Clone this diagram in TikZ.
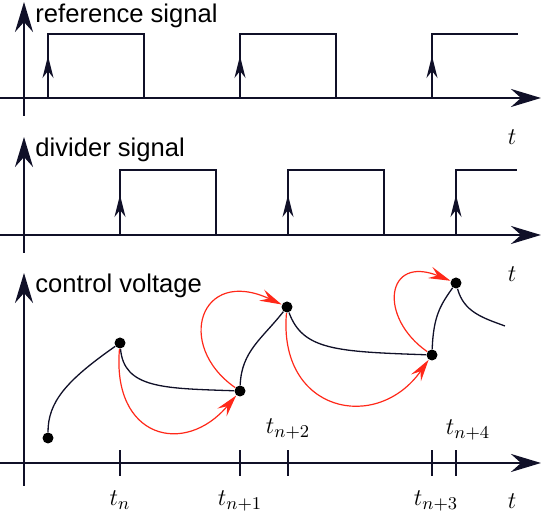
\documentclass[tikz,border=0pt]{standalone}
\usepackage{fontspec}
\setsansfont{Liberation Sans}
\usepackage{amsmath}
\usetikzlibrary{arrows.meta}
\definecolor{ink}{RGB}{16,16,40}
\definecolor{jump}{RGB}{255,40,25}

\begin{document}
\begin{tikzpicture}[x=0.5pt, y=0.5pt,
  taxis/.style={line width=1.4pt, color=ink, -{Stealth[length=15pt,width=9pt,inset=5pt]}},
  wave/.style={line width=0.65pt, color=ink},
  riseedge/.style={line width=0.65pt, color=ink, -{Stealth[length=11pt,width=5.5pt,inset=3.5pt]}},
  tick/.style={line width=0.6pt, color=ink},
  vdot/.style={circle, fill=black, inner sep=0pt, minimum size=5.5pt},
  jumparrow/.style={line width=0.6pt, color=jump, -{Stealth[length=11pt,width=6pt,inset=4pt]}},
  lbl/.style={font=\sffamily\fontsize{12.8}{15}\selectfont, anchor=base west, inner sep=0pt},
  tlbl/.style={font=\fontsize{12.5}{15}\selectfont, anchor=base, inner sep=0pt}]
  \useasboundingbox (0,0) rectangle (542,512);

  % Axes
  \draw[taxis] (0,414) -- (541,414);
  \draw[taxis] (24,396) -- (24,510);
  \draw[taxis] (0,277) -- (541,277);
  \draw[taxis] (24,259) -- (24,375);
  \draw[taxis] (0,49) -- (541,49);
  \draw[taxis] (24,26) -- (24,239);

  % Labels
  \node[lbl] (refl) at (35,489) {reference signal};
  \node[lbl] (divl) at (35,355) {divider signal};
  \node[lbl] (ctrl) at (35,219) {control voltage};
  \node[tlbl] (t1) at (512,367) {$t$};
  \node[tlbl] (t2) at (512,230) {$t$};
  \node[tlbl] (t3) at (512,3) {$t$};

  % Reference signal
  \foreach \x in {48,240}{
    \draw[wave] (\x,414) -- (\x,478) -- ++(96,0) -- ++(0,-64);
  }
  \draw[wave] (432,414) -- (432,478) -- (518,478);
  \foreach \x in {48,240,432}{
    \draw[riseedge] (\x,414) -- ++(0,42);
  }

  % Divider signal
  \foreach \x in {120,288}{
    \draw[wave] (\x,277) -- (\x,342) -- ++(96,0) -- ++(0,-65);
  }
  \draw[wave] (456,277) -- (456,342) -- (517,342);
  \foreach \x in {120,288,456}{
    \draw[riseedge] (\x,277) -- ++(0,40);
  }

  % Ticks
  \foreach \x in {120,240,288,432,456}{
    \draw[tick] (\x,36) -- (\x,62);
  }
  \node[tlbl] (tn0) at (120,6) {$t_n$};
  \node[tlbl] (tn1) at (240,6) {$t_{n+1}$};
  \node[tlbl] (tn2) at (288,78) {$t_{n+2}$};
  \node[tlbl] (tn3) at (436,6) {$t_{n+3}$};
  \node[tlbl] (tn4) at (468,77) {$t_{n+4}$};

  % Nodes
  \node[vdot] (p0) at (48,74) {};
  \node[vdot] (p1) at (120,169) {};
  \node[vdot] (p2) at (240,121) {};
  \node[vdot] (p3) at (287,205) {};
  \node[vdot] (p4) at (432,157) {};
  \node[vdot] (p5) at (456,229) {};
  \coordinate (pend) at (505,186);

  % Control voltage
  \draw[wave] (p0) to[out=90, in=215, out distance=15pt, in distance=30pt] (p1);
  \draw[wave] (p1) to[out=-85, in=178, out distance=20pt, in distance=35pt] (p2);
  \draw[wave] (p2) to[out=88, in=232, out distance=17pt, in distance=17pt] (p3);
  \draw[wave] (p3) to[out=-70, in=178, out distance=20pt, in distance=45pt] (p4);
  \draw[wave] (p4) to[out=88, in=235, out distance=17pt, in distance=10pt] (p5);
  \draw[wave] (p5) to[out=-75, in=160, out distance=12pt, in distance=12pt] (pend);

  % Jumps
  \draw[jumparrow] (p1) to[out=-95, in=230, out distance=45pt, in distance=40pt] (p2);
  \draw[jumparrow] (p2) to[out=145, in=155, out distance=37pt, in distance=45pt] (p3);
  \draw[jumparrow] (p3) to[out=-95, in=235, out distance=50pt, in distance=45pt] (p4);
  \draw[jumparrow] (p4) to[out=145, in=158, out distance=30pt, in distance=35pt] (p5);
\end{tikzpicture}
\end{document}
